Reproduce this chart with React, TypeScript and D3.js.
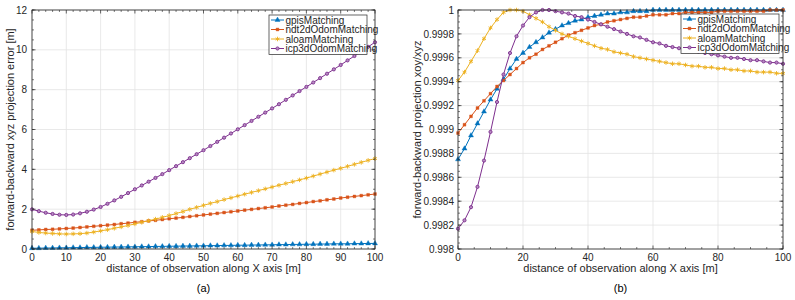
import React from "react";
import * as d3 from "d3";

// distance of observation along X (m), one sample every 2 m
const distance = [
  0, 2, 4, 6, 8, 10, 12, 14, 16, 18, 20, 22, 24, 26, 28, 30, 32, 34, 36, 38, 40,
  42, 44, 46, 48, 50, 52, 54, 56, 58, 60, 62, 64, 66, 68, 70, 72, 74, 76, 78, 80,
  82, 84, 86, 88, 90, 92, 94, 96, 98, 100,
];

const seriesNames = ["gpisMatching", "ndt2dOdomMatching", "aloamMatching", "icp3dOdomMatching"];

// (a) xyz projection error [m]
const errGpis = [
  0.04, 0.04, 0.05, 0.05, 0.06, 0.06, 0.07, 0.07, 0.08, 0.08, 0.09, 0.09, 0.1, 0.1, 0.11, 0.11,
  0.12, 0.12, 0.13, 0.13, 0.14, 0.14, 0.15, 0.15, 0.16, 0.16, 0.17, 0.17, 0.18, 0.18, 0.19, 0.19,
  0.2, 0.2, 0.21, 0.21, 0.22, 0.22, 0.23, 0.23, 0.24, 0.24, 0.25, 0.25, 0.26, 0.26, 0.26, 0.27,
  0.27, 0.28, 0.28,
];
const errNdt2d = [
  0.94, 0.96, 0.98, 0.99, 1.01, 1.03, 1.05, 1.08, 1.11, 1.14, 1.17, 1.2, 1.23, 1.27, 1.3, 1.34,
  1.37, 1.41, 1.44, 1.48, 1.52, 1.55, 1.59, 1.63, 1.67, 1.71, 1.75, 1.79, 1.83, 1.87, 1.91, 1.95,
  1.99, 2.03, 2.07, 2.11, 2.16, 2.2, 2.24, 2.29, 2.33, 2.38, 2.42, 2.47, 2.51, 2.56, 2.6, 2.64,
  2.68, 2.72, 2.76,
];
const errAloam = [
  0.88, 0.83, 0.8, 0.78, 0.76, 0.75, 0.76, 0.77, 0.8, 0.85, 0.91, 0.97, 1.04, 1.11, 1.18, 1.26,
  1.34, 1.42, 1.5, 1.59, 1.68, 1.78, 1.88, 1.99, 2.09, 2.19, 2.29, 2.38, 2.48, 2.57, 2.66, 2.75,
  2.84, 2.93, 3.02, 3.11, 3.2, 3.29, 3.38, 3.47, 3.56, 3.66, 3.76, 3.86, 3.96, 4.05, 4.15, 4.25,
  4.35, 4.45, 4.54,
];
const errIcp3d = [
  1.99, 1.9, 1.82, 1.76, 1.72, 1.71, 1.73, 1.79, 1.87, 1.98, 2.11, 2.27, 2.44, 2.62, 2.81, 3.0,
  3.19, 3.38, 3.57, 3.76, 3.96, 4.16, 4.36, 4.56, 4.76, 4.96, 5.17, 5.38, 5.59, 5.8, 6.01, 6.22,
  6.43, 6.64, 6.85, 7.06, 7.27, 7.49, 7.71, 7.93, 8.14, 8.36, 8.58, 8.8, 9.02, 9.24, 9.47, 9.69,
  9.92, 10.15, 10.38,
];

// (b) projection ratio xoy/xyz
const ratioGpis = [
  0.99875, 0.99884, 0.99895, 0.99905, 0.99915, 0.99925, 0.99934, 0.99942, 0.99951, 0.99959,
  0.99964, 0.99969, 0.99973, 0.99977, 0.99981, 0.99984, 0.99987, 0.99989, 0.99991, 0.99992,
  0.99994, 0.99995, 0.99996, 0.99997, 0.99997, 0.99998, 0.99998, 0.99999, 0.99999, 0.99999,
  1.0, 1.0, 1.0, 1.0, 1.0, 1.0, 1.0, 1.0, 1.0, 1.0, 1.0, 1.0, 1.0, 1.0, 1.0, 1.0, 1.0, 1.0,
  1.0, 1.0, 1.0,
];
const ratioNdt2d = [
  0.99897, 0.99904, 0.99911, 0.99918, 0.99924, 0.9993, 0.99936, 0.99941, 0.99946, 0.99951,
  0.99956, 0.9996, 0.99963, 0.99967, 0.9997, 0.99973, 0.99976, 0.99979, 0.99981, 0.99983,
  0.99985, 0.99987, 0.99988, 0.9999, 0.99991, 0.99992, 0.99993, 0.99994, 0.99994, 0.99995,
  0.99996, 0.99996, 0.99996, 0.99997, 0.99997, 0.99998, 0.99998, 0.99998, 0.99998, 0.99998,
  0.99999, 0.99999, 0.99999, 0.99999, 0.99999, 0.99999, 0.99999, 0.99999, 1.0, 1.0, 1.0,
];
const ratioAloam = [
  0.99941, 0.99948, 0.99957, 0.99966, 0.99976, 0.99985, 0.99992, 0.99998, 1.0, 1.0, 0.99999,
  0.99996, 0.99993, 0.9999, 0.99986, 0.99983, 0.9998, 0.99978, 0.99976, 0.99974, 0.99972,
  0.9997, 0.99968, 0.99967, 0.99965, 0.99964, 0.99963, 0.99961, 0.9996, 0.99959, 0.99958,
  0.99957, 0.99956, 0.99955, 0.99955, 0.99954, 0.99953, 0.99953, 0.99952, 0.99952, 0.99951,
  0.99951, 0.9995, 0.9995, 0.99949, 0.99949, 0.99948, 0.99948, 0.99948, 0.99947, 0.99947,
];
const ratioIcp3d = [
  0.99817, 0.99824, 0.99835, 0.99852, 0.99874, 0.99898, 0.99923, 0.99946, 0.99964, 0.99978,
  0.99987, 0.99994, 0.99998, 1.0, 1.0, 0.99999, 0.99998, 0.99997, 0.99995, 0.99994, 0.99992,
  0.9999, 0.99988, 0.99986, 0.99984, 0.99982, 0.9998, 0.99978, 0.99977, 0.99975, 0.99973,
  0.99972, 0.9997, 0.99969, 0.99968, 0.99967, 0.99966, 0.99965, 0.99964, 0.99963, 0.99962,
  0.99961, 0.9996, 0.9996, 0.99959, 0.99958, 0.99958, 0.99957, 0.99956, 0.99956, 0.99955,
];

const xTicksA = [0, 10, 20, 30, 40, 50, 60, 70, 80, 90, 100];
const xTicksB = [0, 20, 40, 60, 80, 100];
const yTicksA = [0, 2, 4, 6, 8, 10, 12];
const yTicksB = [0.998, 0.9982, 0.9984, 0.9986, 0.9988, 0.999, 0.9992, 0.9994, 0.9996, 0.9998, 1];
const yTickLabelsB = ["0.998", "0.9982", "0.9984", "0.9986", "0.9988", "0.999", "0.9992", "0.9994", "0.9996", "0.9998", "1"];

const colors = ["#0072BD", "#D95319", "#EDB120", "#7E2F8E"];
const symbols = [d3.symbolTriangle, d3.symbolSquare, d3.symbolAsterisk, d3.symbolCircle];
const symbolSizes = [11, 8, 14, 8];

const FONT = "Liberation Sans, Arial, sans-serif";
const INK = "#262626";
const FS = 10; // tick labels and legend
const LABEL_FS = 11; // axis titles

function Marker({ i, x, y }: { i: number; x: number; y: number }) {
  const path = d3.symbol(symbols[i], symbolSizes[i])() as string;
  const stroked = i === 2 || i === 3;
  return (
    <path
      d={path}
      transform={`translate(${x},${y})`}
      fill={i === 3 ? "#b58bc0" : stroked ? "none" : colors[i]}
      stroke={colors[i]}
      strokeWidth={stroked ? 0.9 : 0.4}
    />
  );
}

type PanelProps = {
  left: number;
  top: number;
  width: number;
  height: number;
  yDomain: [number, number];
  yTicks: number[];
  yTickLabels: string[];
  yMinor: number;
  xTicks: number[];
  xMinor: number;
  data: number[][];
  yLabel: string;
  yLabelX: number;
  tickLabelGap: number;
  caption: string;
  legendX: number;
  legendY: number;
};

function Panel(p: PanelProps) {
  const x = d3.scaleLinear().domain([0, 100]).range([p.left, p.left + p.width]);
  const y = d3.scaleLinear().domain(p.yDomain).range([p.top + p.height, p.top]);
  const bottom = p.top + p.height;
  const right = p.left + p.width;
  const line = d3
    .line<number>()
    .x((_, k) => x(distance[k]))
    .y((v) => y(v));

  const xMinorTicks = d3.range(0, 100 + 1e-9, p.xMinor).filter((v) => !p.xTicks.includes(v));
  const span = p.yDomain[1] - p.yDomain[0];
  const nMinor = Math.round(span / p.yMinor);
  const yMinorTicks = d3.range(nMinor + 1).map((k) => p.yDomain[0] + k * p.yMinor);

  const midX = (p.left + right) / 2;
  const midY = (p.top + bottom) / 2;

  return (
    <g fontFamily={FONT}>
      <rect x={p.left} y={p.top} width={p.width} height={p.height} fill="#fff" />
      {/* grid */}
      {p.xTicks.map((t) => (
        <line key={`gx${t}`} x1={x(t)} x2={x(t)} y1={p.top} y2={bottom} stroke="#e3e3e3" strokeWidth={0.8} />
      ))}
      {p.yTicks.map((t) => (
        <line key={`gy${t}`} x1={p.left} x2={right} y1={y(t)} y2={y(t)} stroke="#e3e3e3" strokeWidth={0.8} />
      ))}
      {/* series */}
      {p.data.map((vals, i) => (
        <g key={seriesNames[i]}>
          <path d={line(vals) as string} fill="none" stroke={colors[i]} strokeWidth={1} />
          {vals.map((v, k) => (
            <Marker key={k} i={i} x={x(distance[k])} y={y(v)} />
          ))}
        </g>
      ))}
      {/* box and inward ticks */}
      <rect x={p.left} y={p.top} width={p.width} height={p.height} fill="none" stroke={INK} strokeWidth={0.8} />
      {p.xTicks.map((t) => (
        <g key={`tx${t}`} stroke={INK} strokeWidth={0.7}>
          <line x1={x(t)} x2={x(t)} y1={bottom} y2={bottom - 3.5} />
          <line x1={x(t)} x2={x(t)} y1={p.top} y2={p.top + 3.5} />
        </g>
      ))}
      {xMinorTicks.map((t) => (
        <g key={`mx${t}`} stroke={INK} strokeWidth={0.6}>
          <line x1={x(t)} x2={x(t)} y1={bottom} y2={bottom - 2} />
          <line x1={x(t)} x2={x(t)} y1={p.top} y2={p.top + 2} />
        </g>
      ))}
      {p.yTicks.map((t) => (
        <g key={`ty${t}`} stroke={INK} strokeWidth={0.7}>
          <line x1={p.left} x2={p.left + 3.5} y1={y(t)} y2={y(t)} />
          <line x1={right} x2={right - 3.5} y1={y(t)} y2={y(t)} />
        </g>
      ))}
      {yMinorTicks.map((t, k) => (
        <g key={`my${k}`} stroke={INK} strokeWidth={0.6}>
          <line x1={p.left} x2={p.left + 2} y1={y(t)} y2={y(t)} />
          <line x1={right} x2={right - 2} y1={y(t)} y2={y(t)} />
        </g>
      ))}
      {/* tick labels */}
      {p.xTicks.map((t) => (
        <text key={`lx${t}`} x={x(t)} y={bottom + 11.5} fontSize={FS} fill={INK} textAnchor="middle">
          {t}
        </text>
      ))}
      {p.yTicks.map((t, k) => (
        <text key={`ly${t}`} x={p.left - p.tickLabelGap} y={y(t) + 3.6} fontSize={FS} fill={INK} textAnchor="end">
          {p.yTickLabels[k]}
        </text>
      ))}
      {/* axis titles */}
      <text x={midX} y={bottom + 23} fontSize={LABEL_FS} fill={INK} textAnchor="middle">
        distance of observation along X axis [m]
      </text>
      <text
        transform={`translate(${p.yLabelX},${midY}) rotate(-90)`}
        fontSize={LABEL_FS}
        fill={INK}
        textAnchor="middle"
      >
        {p.yLabel}
      </text>
      <text x={midX} y={bottom + 43} fontSize={11} fill="#000" textAnchor="middle">
        {p.caption}
      </text>
      {/* legend */}
      <g transform={`translate(${p.legendX},${p.legendY})`}>
        <rect x={0} y={0} width={98} height={39.5} fill="#fff" stroke={INK} strokeWidth={0.7} />
        {seriesNames.map((name, i) => {
          const ry = 5 + i * 9.5;
          return (
            <g key={name}>
              <line x1={2} x2={15} y1={ry} y2={ry} stroke={colors[i]} strokeWidth={1} />
              <Marker i={i} x={8.5} y={ry} />
              <text x={16.5} y={ry + 3.6} fontSize={FS} fill={INK}>
                {name}
              </text>
            </g>
          );
        })}
      </g>
    </g>
  );
}

export default function App() {
  return (
    <svg
      width={795}
      height={300}
      viewBox="0 0 795 300"
      style={{ position: "absolute", left: 0, top: 0, background: "#fff" }}
    >
      <rect width={795} height={300} fill="#fff" />
      <Panel
        left={32}
        top={10}
        width={343}
        height={239}
        yDomain={[0, 12]}
        yTicks={yTicksA}
        yTickLabels={yTicksA.map(String)}
        yMinor={0.5}
        xTicks={xTicksA}
        xMinor={2}
        data={[errGpis, errNdt2d, errAloam, errIcp3d]}
        yLabel="forward-backward xyz projection error [m]"
        yLabelX={14}
        tickLabelGap={5}
        caption="(a)"
        legendX={269}
        legendY={15}
      />
      <Panel
        left={458}
        top={10}
        width={325}
        height={239}
        yDomain={[0.998, 1]}
        yTicks={yTicksB}
        yTickLabels={yTickLabelsB}
        yMinor={0.00005}
        xTicks={xTicksB}
        xMinor={5}
        data={[ratioGpis, ratioNdt2d, ratioAloam, ratioIcp3d]}
        yLabel="forward-backward projection xoy/xyz"
        yLabelX={421}
        tickLabelGap={4}
        caption="(b)"
        legendX={681}
        legendY={14}
      />
    </svg>
  );
}
